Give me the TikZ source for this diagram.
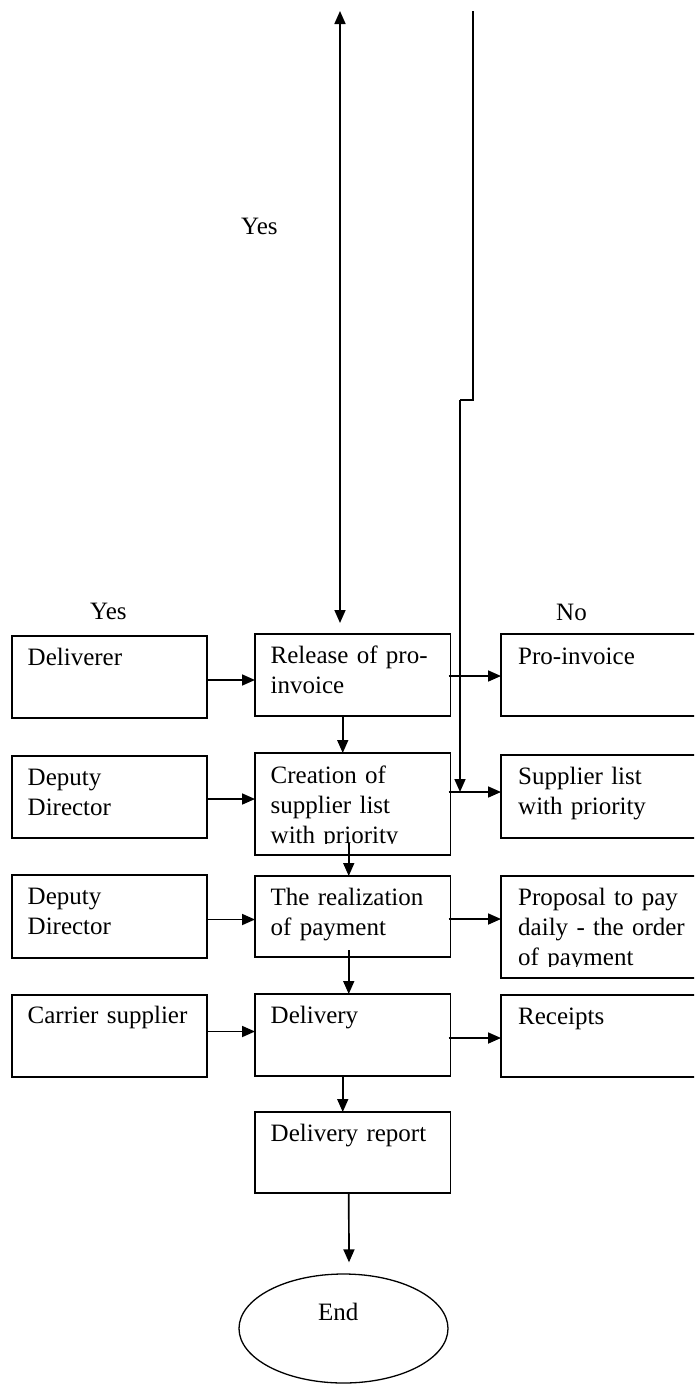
\documentclass[tikz,border=0pt]{standalone}
\usepackage{fontspec}
\setmainfont{Liberation Serif}
\usetikzlibrary{arrows.meta,calc,shapes.geometric}

\begin{document}
\begin{tikzpicture}[x=1pt,y=-1pt,
  box/.style={draw,line width=1.8pt,inner sep=0pt,outer sep=0pt,anchor=north west},
  lcol/.style={box,minimum width=195pt},
  ccol/.style={box,minimum width=195.5pt},
  rcol/.style={box,minimum width=220pt},
  txt/.style={anchor=north west,inner sep=0pt,align=left,text width=176pt,
    font=\fontsize{25}{30}\selectfont},
  lbl/.style={anchor=base west,inner sep=0pt,font=\fontsize{25}{30}\selectfont},
  tip/.tip={Triangle[length=13pt,width=11pt]},
  arr/.style={line width=1.7pt,-tip},
  dblarr/.style={line width=1.7pt,tip-tip},
  wire/.style={line width=1.7pt}]

\useasboundingbox (0,0) rectangle (694,1384);
\clip (0,0) rectangle (694,1384);

% left column: actors
\node[lcol,minimum height=82pt] (deliv)   at (12,636) {};
\node[lcol,minimum height=82pt] (dep1)    at (12,756) {};
\node[lcol,minimum height=83pt] (dep2)    at (12,875) {};
\node[lcol,minimum height=82pt] (carrier) at (12,995) {};

% centre column: process steps
\node[ccol,minimum height=82pt]  (release)  at (255,634) {};
\node[ccol,minimum height=102pt] (creation) at (255,753) {};
\node[ccol,minimum height=81pt]  (realize)  at (255,876) {};
\node[ccol,minimum height=82pt]  (delivery) at (255,994) {};
\node[ccol,minimum height=81pt]  (report)   at (255,1112) {};

% right column: documents
\node[rcol,minimum height=82pt]  (pro)      at (501,634) {};
\node[rcol,minimum height=83pt]  (supl)     at (501,755) {};
\node[rcol,minimum height=102pt] (proposal) at (501,876) {};
\node[rcol,minimum height=82pt]  (receipts) at (501,995) {};

% end terminator
\node[draw,ellipse,line width=1.3pt,minimum width=209pt,minimum height=109pt,inner sep=0pt]
  (end) at (343.5,1328.5) {};
\node[lbl] (endT) at (318,1320) {End};

% box texts
\node[txt] (delivT)   at ([shift={(15.5pt,-8.5pt)}]deliv.north west)   {\strut Deliverer};
\node[txt] (dep1T)    at ([shift={(15.5pt,-8.5pt)}]dep1.north west)    {\strut Deputy\\Director};
\node[txt] (dep2T)    at ([shift={(15.5pt,-8.5pt)}]dep2.north west)    {\strut Deputy\\Director};
\node[txt] (carrierT) at ([shift={(15.5pt,-7.5pt)}]carrier.north west) {\strut Carrier supplier};

\node[txt] (releaseT)  at ([shift={(15.5pt,-8.5pt)}]release.north west)  {\strut Release of pro-\\invoice};
\begin{scope}
  \clip (creation.north west) rectangle ([yshift=12pt]creation.south east);
  \node[txt] (creationT) at ([shift={(15.5pt,-9pt)}]creation.north west) {\strut Creation of\\supplier list\\with priority};
\end{scope}
\node[txt] (realizeT)  at ([shift={(15.5pt,-8.5pt)}]realize.north west)  {\strut The realization\\of payment};
\node[txt] (deliveryT) at ([shift={(15.5pt,-8.5pt)}]delivery.north west) {\strut Delivery};
\node[txt] (reportT)   at ([shift={(15.5pt,-8.5pt)}]report.north west)   {\strut Delivery report};

\node[txt] (proT)      at ([shift={(17pt,-9pt)}]pro.north west)      {\strut Pro-invoice};
\node[txt] (suplT)     at ([shift={(17pt,-8.5pt)}]supl.north west)   {\strut Supplier list\\with priority};
\begin{scope}
  \clip (proposal.north west) rectangle ([yshift=12pt]proposal.south east);
  \node[txt] (proposalT) at ([shift={(17pt,-8.5pt)}]proposal.north west) {\strut Proposal to pay\\daily - the order\\of payment};
\end{scope}
\node[txt] (receiptsT) at ([shift={(17pt,-8.5pt)}]receipts.north west) {\strut Receipts};

% branch labels
\node[lbl] (yesTop)  at (241,234) {Yes};
\node[lbl] (yesLeft) at (90,619)  {Yes};
\node[lbl] (noRight) at (556,620) {No};

% actors feed the process steps
\draw[arr] ([yshift=-3pt]deliv.east)   -- ([yshift=-3pt]deliv.east -| release.west);
\draw[arr] ([yshift=-2pt]dep1.east)    -- ([yshift=-2pt]dep1.east -| creation.west);
\draw[arr] ([yshift=-3pt]dep2.east)    -- ([yshift=-3pt]dep2.east -| realize.west);
\draw[arr] ([yshift=4.5pt]carrier.east) -- ([yshift=4.5pt]carrier.east -| delivery.west);

% process steps produce documents
\coordinate (relOut) at ([shift={(-2pt,-1pt)}]release.east);
\coordinate (creOut) at ([shift={(-2pt,12pt)}]creation.east);
\coordinate (reaOut) at ([shift={(-2pt,-2.5pt)}]realize.east);
\coordinate (delOut) at ([shift={(-2pt,-3pt)}]delivery.east);
\draw[arr] (relOut) -- (relOut -| pro.west);
\draw[arr] (creOut) -- (creOut -| supl.west);
\draw[arr] (reaOut) -- (reaOut -| proposal.west);
\draw[arr] (delOut) -- (delOut -| receipts.west);

% main flow
\draw[arr] ([xshift=-10pt]release.south) -- ([xshift=-10pt]creation.north);
\draw[arr] ($(creation.south)+(-4,-12)$) -- ([xshift=-4pt]realize.north);
\draw[arr] ($(realize.south)+(-4,-7)$)   -- ([xshift=-4pt]delivery.north);
\draw[arr] ([xshift=-10pt]delivery.south) -- ([xshift=-10pt]report.north);
\draw[arr] ([xshift=-4pt]report.south)   -- ($(end.north)+(5.5,-11)$);

% incoming branches from above
\coordinate (topA) at (340,11);
\draw[dblarr] (topA) -- ($(topA |- release.north)+(0,-11)$);

\coordinate (topB) at (473,11);
\coordinate (jogB) at (473,400);
\coordinate (jogC) at (460,400);
\draw[wire] (topB) -- (jogB) -- (jogC);
\draw[arr] (jogC) -- (jogC |- creOut);

\end{tikzpicture}
\end{document}
